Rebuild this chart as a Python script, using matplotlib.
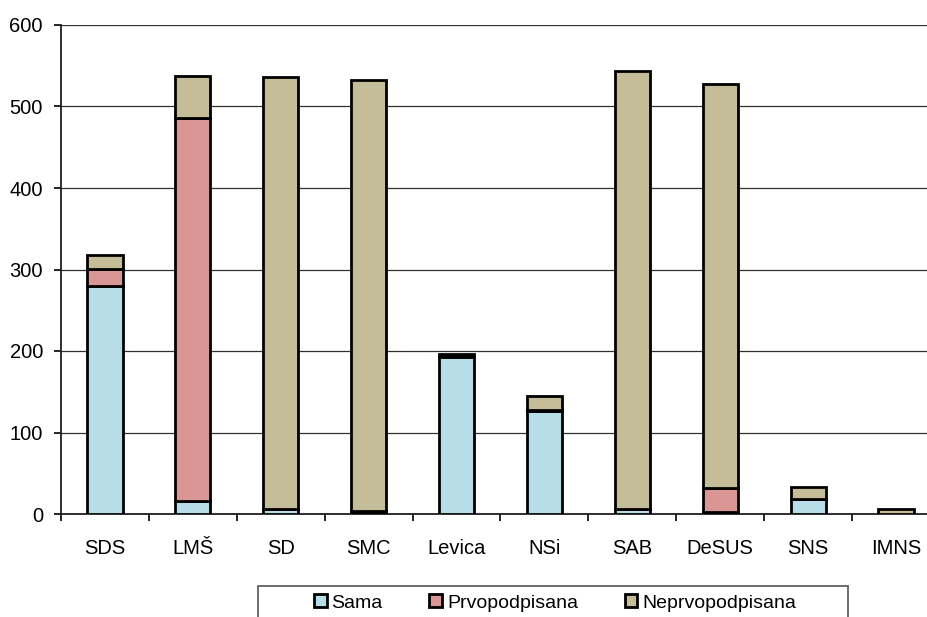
import matplotlib.pyplot as plt
import numpy as np
from matplotlib.patches import Rectangle

plt.rcParams["font.family"] = ["Liberation Sans", "DejaVu Sans"]

parties = ["SDS", "LMŠ", "SD", "SMC", "Levica", "NSi", "SAB", "DeSUS", "SNS", "IMNS"]
sama = [280, 16, 6, 1, 193, 126, 6, 2, 19, 0]
prvopodpisana = [21, 470, 0, 3, 1, 2, 0, 30, 0, 0]
neprvopodpisana = [17, 51, 530, 529, 2, 17, 537, 496, 14, 6]
series_names = ["Sama", "Prvopodpisana", "Neprvopodpisana"]
colors = ["#B7DEE8", "#D99694", "#C4BD97"]

fig = plt.figure(figsize=(9.28, 6.17), dpi=100)
ax = fig.add_axes([61 / 928, 1 - 514 / 617, 879 / 928, 489 / 617])

x = np.arange(len(parties))
bottom = np.zeros(len(parties))
handles = []
for vals, name, col in zip([sama, prvopodpisana, neprvopodpisana], series_names, colors):
    vals = np.array(vals, dtype=float)
    b = ax.bar(x, vals, 0.4, bottom=bottom, color=col, edgecolor="black",
               linewidth=2.0, label=name, zorder=3)
    handles.append(b)
    bottom += vals

ax.set_xlim(-0.5, len(parties) - 0.5)
ax.set_ylim(0, 600)
ax.set_yticks(range(0, 601, 100))
ax.yaxis.grid(True, color="#303030", linewidth=0.9, zorder=0)
ax.set_axisbelow(True)

ax.set_xticks(x)
ax.set_xticklabels(parties)
ax.set_xticks(np.arange(-0.5, len(parties)), minor=True)
ax.tick_params(axis="x", which="major", length=0, pad=18, labelsize=14.5)
ax.tick_params(axis="x", which="minor", length=5, width=1.2, direction="out")
ax.tick_params(axis="y", length=5, width=1.2, direction="out", pad=8, labelsize=14.5)

for side in ["top", "right"]:
    ax.spines[side].set_visible(False)
ax.spines["left"].set_linewidth(1.3)
ax.spines["bottom"].set_linewidth(1.3)
ax.spines["left"].set_color("#202020")
ax.spines["bottom"].set_color("#202020")

# legend frame runs off the bottom edge of the picture
fig.patches.append(Rectangle((258 / 928, -0.1), 590 / 928, 0.1 + (617 - 586) / 617,
                             transform=fig.transFigure, fill=False,
                             edgecolor="#606060", linewidth=1.3))
fig.legend(handles=handles, labels=series_names, loc="center", ncol=3,
           bbox_to_anchor=(555 / 928, 1 - 603 / 617), frameon=False,
           fontsize=14, handlelength=0.65, handleheight=0.65, handletextpad=0.25,
           columnspacing=2.4)

fig.savefig("out.png", dpi=100)
